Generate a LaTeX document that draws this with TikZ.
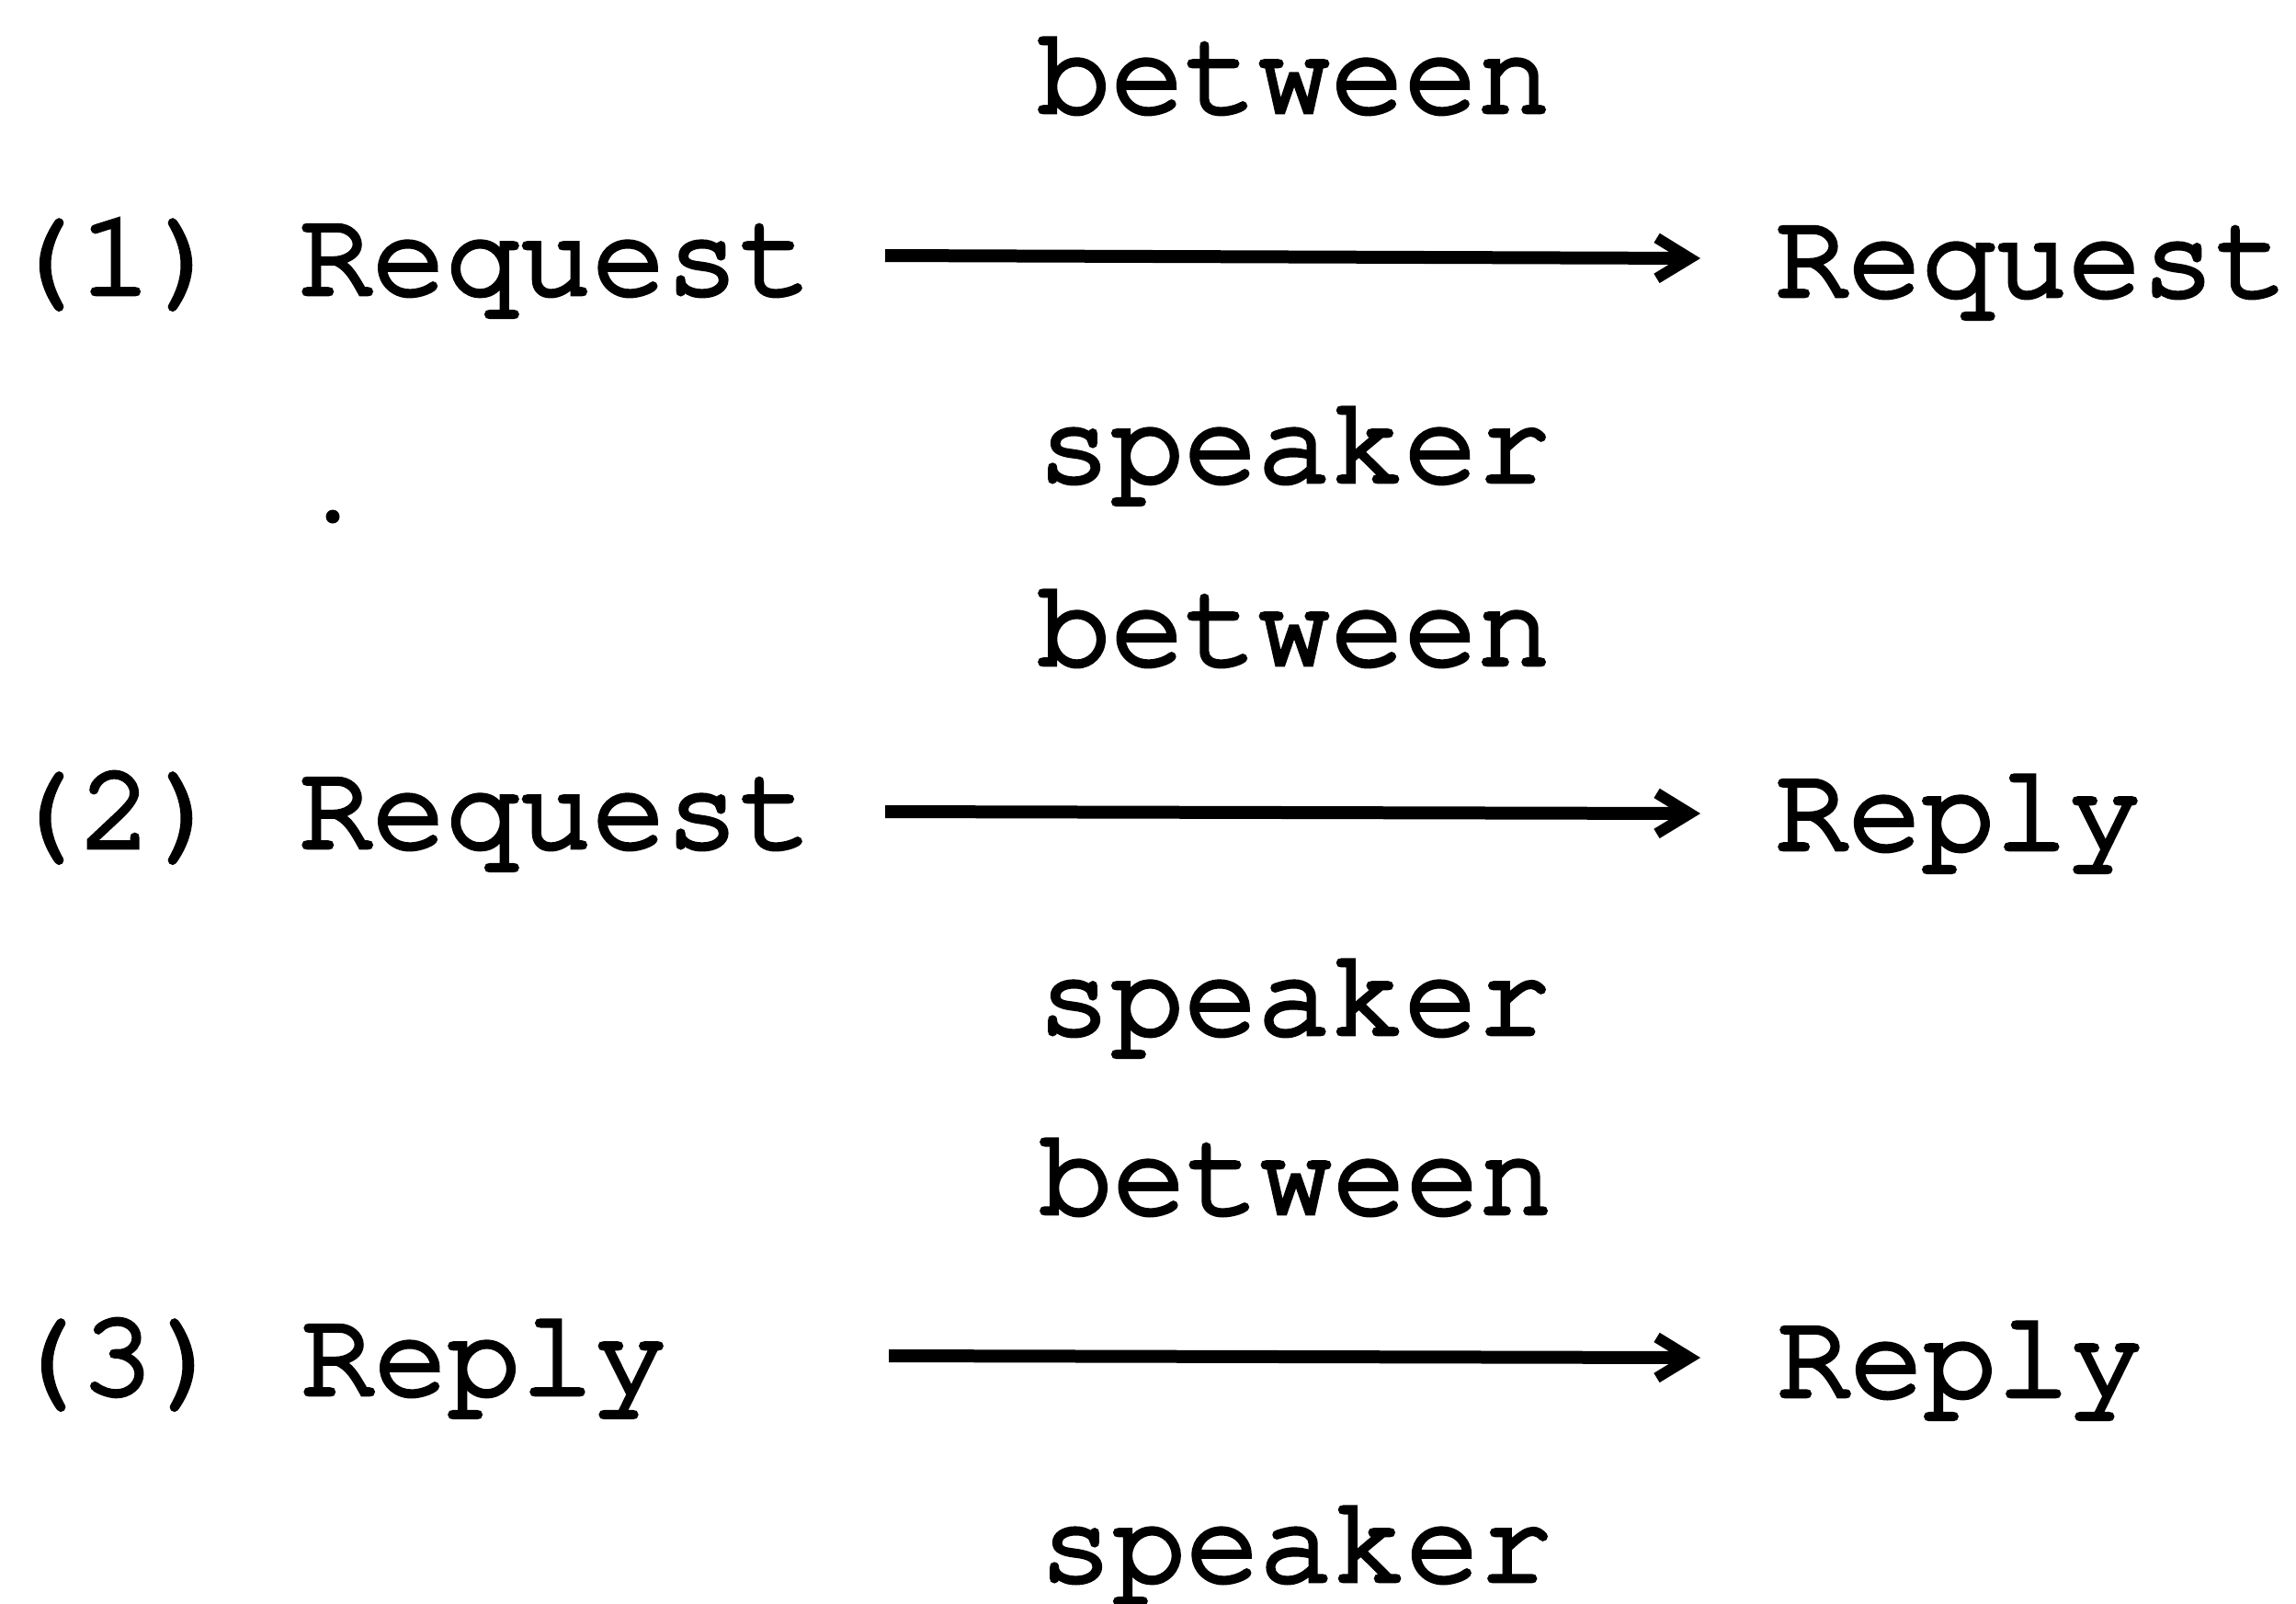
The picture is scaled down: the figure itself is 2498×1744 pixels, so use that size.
\documentclass[tikz,border=0pt]{standalone}
\usepackage{fontspec}
\newfontfamily\cur{TeX Gyre Cursor}[FakeBold=3.5]
\usetikzlibrary{arrows.meta}
\tikzset{
  txt/.style={inner sep=0pt, outer sep=0pt, font=\cur\fontsize{13.3pt}{16pt}\selectfont},
  lft/.style={txt, anchor=base west},
  lbl/.style={txt, anchor=base},
  arr/.style={line width=1.4pt, -{Straight Barb[length=3.6pt,width=4.4pt,line width=1.2pt]}}
}
\begin{document}
\begin{tikzpicture}[x=0.1pt,y=-0.1pt]
\useasboundingbox (0,0) rectangle (2498,1744);
% row 1
\node[lbl] (b1) at (1408,122) {between};
\node[lft] (l1) at (6,320) {(1) Request};
\node[lft] (r1) at (1931,322) {Request};
\node[lbl] (s1) at (1408,524) {speaker};
\coordinate (a1) at (963,278);
\coordinate (e1) at (1850,281);
\draw[arr] (a1) -- (e1);
% stray dot
\fill (362,562) circle (0.75pt);
% row 2
\node[lbl] (b2) at (1408,723) {between};
\node[lft] (l2) at (6,922) {(2) Request};
\node[lft] (r2) at (1931,924) {Reply};
\node[lbl] (s2) at (1408,1125) {speaker};
\coordinate (a2) at (963,883);
\coordinate (e2) at (1850,885);
\draw[arr] (a2) -- (e2);
% row 3
\node[lbl] (b3) at (1410,1320) {between};
\node[lft] (l3) at (8,1517) {(3) Reply};
\node[lft] (r3) at (1933,1519) {Reply};
\node[lbl] (s3) at (1410,1720) {speaker};
\coordinate (a3) at (967,1475);
\coordinate (e3) at (1850,1477);
\draw[arr] (a3) -- (e3);
\end{tikzpicture}
\end{document}
